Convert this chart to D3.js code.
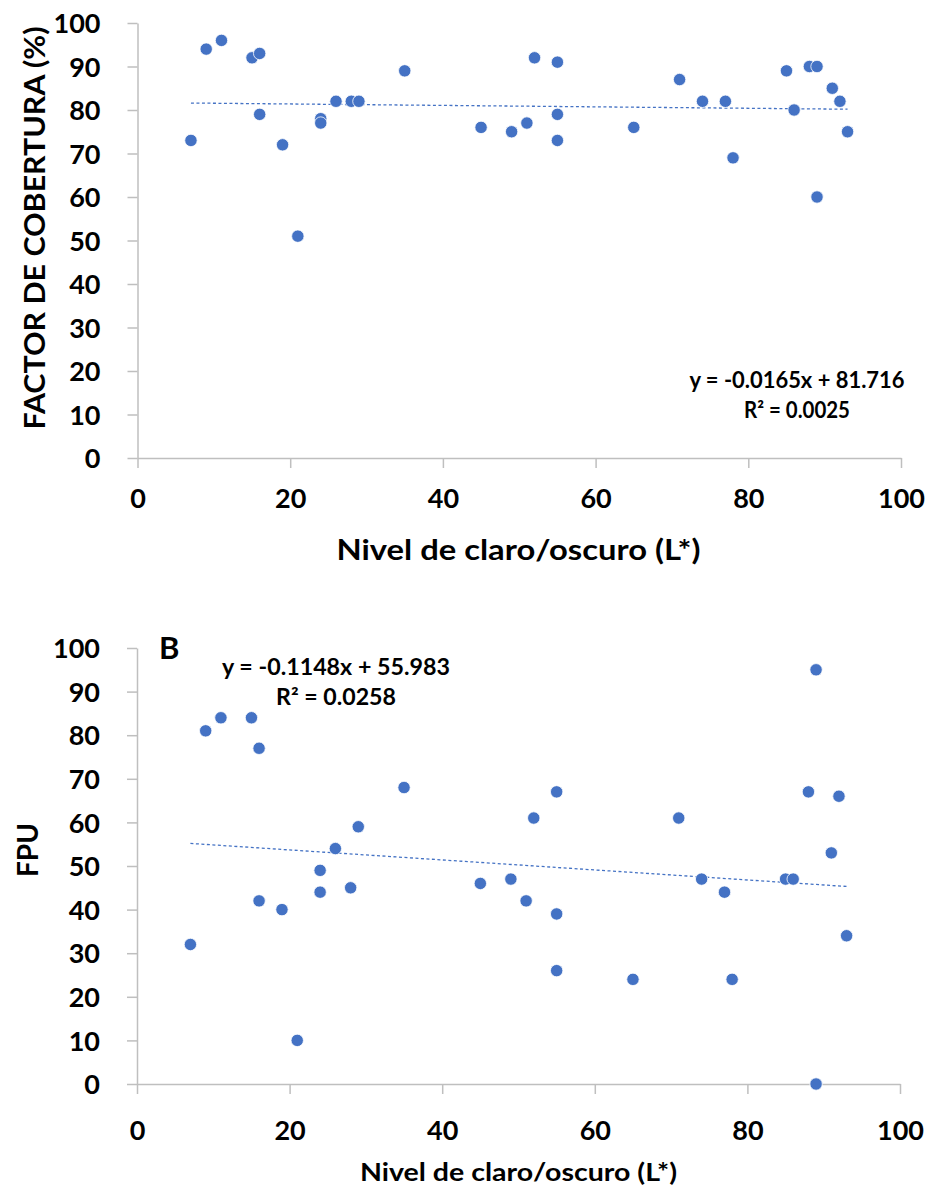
<!DOCTYPE html>
<html lang="es">
<head>
    <meta charset="UTF-8">
    <title>Factor de cobertura y FPU vs L*</title>
    <script src="https://cdn.jsdelivr.net/npm/d3@7/dist/d3.min.js"></script>
    <style>
        body {margin: 0; background: #fff;}
        svg text {font-family: Lato, "Open Sans", sans-serif; font-weight: bold; fill: #000;}
    </style>
</head>
<body>
<div id="graf"></div>
<script>
    // valores: nivel L* de cada muestra
    const nivelL = [7, 9, 11, 15, 16, 16, 19, 21, 24, 24, 26, 28, 29, 35, 45, 49, 51,
                    52, 55, 55, 55, 65, 71, 74, 77, 78, 85, 86, 88, 89, 89, 91, 92, 93];
    // panel A: factor de cobertura (%)
    const cobertura = [73, 94, 96, 92, 93, 79, 72, 51, 78, 77, 82, 82, 82, 89, 76, 75, 77,
                       92, 91, 79, 73, 76, 87, 82, 82, 69, 89, 80, 90, 90, 60, 85, 82, 75];
    // panel B: FPU (mismo orden de muestras)
    const fpu = [32, 81, 84, 84, 77, 42, 40, 10, 49, 44, 54, 45, 59, 68, 46, 47, 42,
                 61, 67, 39, 26, 24, 61, 47, 44, 24, 47, 47, 67, 95, 0, 53, 66, 34];
    const ticksX = [0, 20, 40, 60, 80, 100];
    const ticksY = [0, 10, 20, 30, 40, 50, 60, 70, 80, 90, 100];
    // líneas de tendencia (pendiente, ordenada) y textos
    const tendenciaA = [-0.0165, 81.716];
    const tendenciaB = [-0.1148, 55.983];
    const ecuacionA = ["y = -0.0165x + 81.716", "R² = 0.0025"];
    const ecuacionB = ["y = -0.1148x + 55.983", "R² = 0.0258"];

    const azul = "#4472C4", gris = "#BFBFBF";

    let svg = d3.select("#graf")
        .append("svg")
        .attr("width", 929)
        .attr("height", 1189);

    // texto con ancho fijo (la fuente original es más ancha que Lato)
    function texto(g, x, y, t, size, largo) {
        return g.append("text")
            .attr("x", x)
            .attr("y", y)
            .attr("text-anchor", "middle")
            .attr("textLength", largo)
            .attr("lengthAdjust", "spacingAndGlyphs")
            .style("font-size", size + "px")
            .text(t);
    }

    function panel(o) {
        let x = d3.scaleLinear().domain([0, 100]).range([o.left, o.right]);
        let y = d3.scaleLinear().domain([0, 100]).range([o.bottom, o.top]);
        let g = svg.append("g");

        let ax = g.append("g")
            .attr("transform", "translate(0," + o.bottom + ")")
            .call(d3.axisBottom(x).tickValues(ticksX).tickSize(10).tickSizeOuter(0));
        let ay = g.append("g")
            .attr("transform", "translate(" + o.left + ",0)")
            .call(d3.axisLeft(y).tickValues(ticksY).tickSize(10).tickPadding(27).tickSizeOuter(0));

        [ax, ay].forEach(function(a) {
            a.attr("font-family", null).attr("font-size", null);
            a.select(".domain").attr("stroke", gris).attr("stroke-width", 1.5);
            a.selectAll(".tick line").attr("stroke", gris).attr("stroke-width", 1.5);
            a.selectAll(".tick text").style("font-size", "27px");
        });
        ax.selectAll(".tick text").attr("y", o.tickY).attr("dy", null);
        ay.selectAll(".tick text").attr("dy", "0.36em");

        // línea de tendencia
        let ext = d3.extent(nivelL);
        g.append("path")
            .datum(ext)
            .attr("fill", "none")
            .attr("stroke", azul)
            .attr("stroke-width", 1.3)
            .attr("stroke-dasharray", "3,2.5")
            .attr("d", d3.line()
                .x(function(d) { return x(d); })
                .y(function(d) { return y(o.trend[0] * d + o.trend[1]); }));

        g.selectAll("circle")
            .data(nivelL.map(function(v, i) { return [v, o.values[i]]; }))
            .enter().append("circle")
            .attr("cx", function(d) { return x(d[0]); })
            .attr("cy", function(d) { return y(d[1]); })
            .attr("r", 6.2)
            .attr("fill", azul)
            .attr("stroke", "#fff")
            .attr("stroke-width", 0.8);

        texto(g, 518.5, o.xTitleY, "Nivel de claro/oscuro (L*)", o.xTitleSize, o.xTitleLen);

        texto(g, 0, 0, o.yTitle, 28, o.yTitleLen)
            .attr("transform", "translate(" + o.yTitleX + "," + o.yTitleC + ") rotate(-90)");

        o.eq.forEach(function(t, i) {
            texto(g, o.eqX, o.eqY + i * 30, t, 22, o.eqLen[i]);
        });
    }

    panel({left: 137.5, right: 901, top: 23, bottom: 458, tickY: 50,
           values: cobertura, trend: tendenciaA, eq: ecuacionA, eqX: 797, eqY: 388, eqLen: [215, 106],
           xTitleY: 560, xTitleSize: 28, xTitleLen: 364,
           yTitle: "FACTOR DE COBERTURA (%)", yTitleX: 45, yTitleC: 228, yTitleLen: 403});
    panel({left: 137, right: 900, top: 648, bottom: 1084, tickY: 56,
           values: fpu, trend: tendenciaB, eq: ecuacionB, eqX: 336, eqY: 675, eqLen: [228, 120],
           xTitleY: 1181, xTitleSize: 24, xTitleLen: 317,
           yTitle: "FPU", yTitleX: 38, yTitleC: 850, yTitleLen: 54});

    svg.append("text")
        .attr("x", 159)
        .attr("y", 659)
        .style("font-size", "31px")
        .text("B");
</script>
</body>
</html>
